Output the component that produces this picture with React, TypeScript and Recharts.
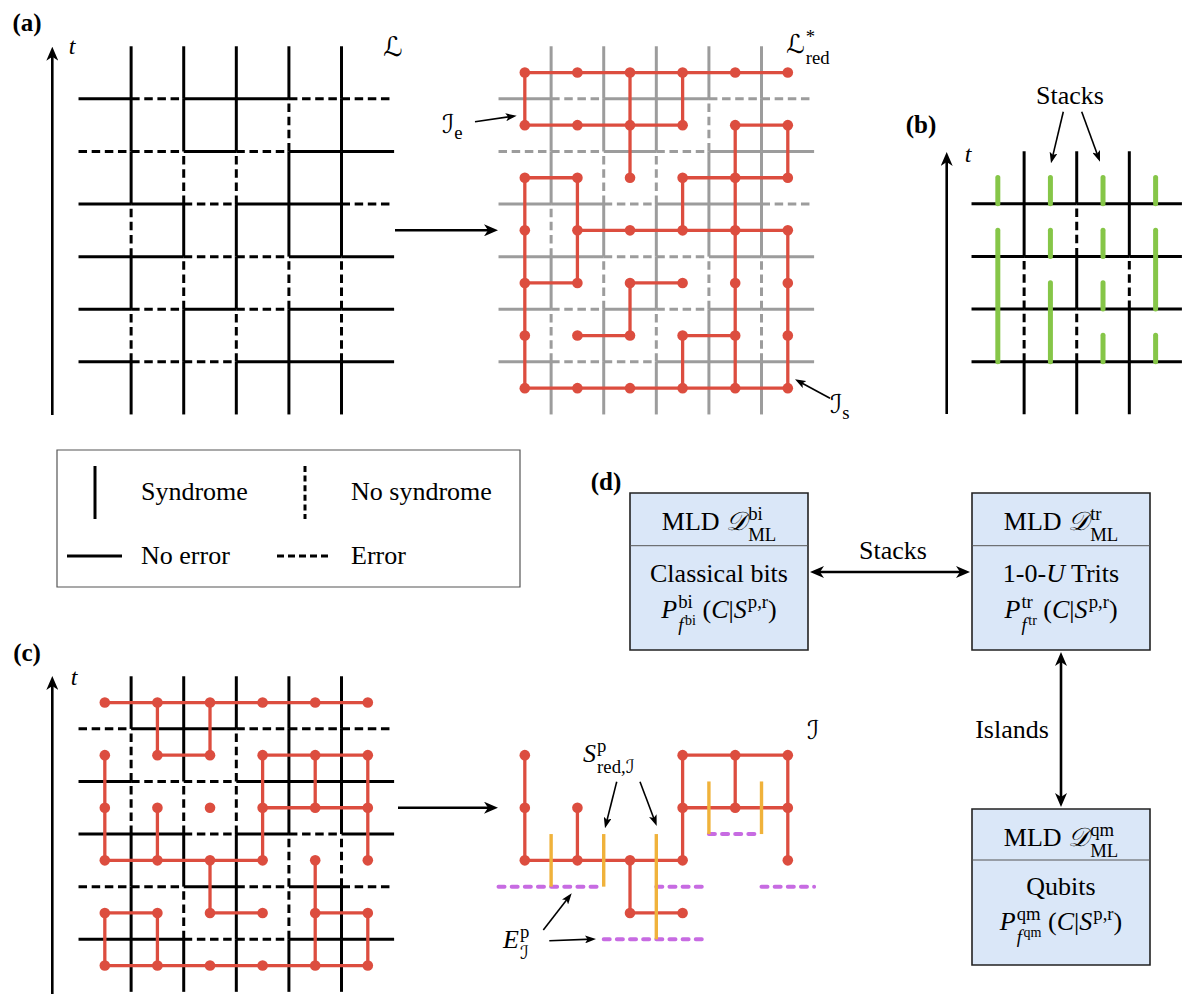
import type { CSSProperties, ReactNode } from "react";
import { ComposedChart, ReferenceArea, ReferenceLine, Scatter, XAxis, YAxis } from "recharts";

// Lattice strings: rows = horizontal lines t = 1..n (bottom up), cols = vertical lines 1..m (left to right).
// "S" = syndrome / no error (solid), "D" = no syndrome / error (dashed).
const latticeARows = ["SDDSSS", "SDSDSS", "SSDDSS", "SSDSSD", "DDSDSS", "SDSSDD"];
const latticeACols = ["SDSDSSS", "SSDSDSS", "SDSSDSS", "SSDSSDS", "SDDSSSS"];

const latticeBRows = ["SSSS", "SSSS", "SSSS", "SSSS"];
const latticeBCols = ["SDDSS", "SDSDS", "SSDSS"];
const stacks = [
  { x: 0.5, from: 4, to: 4.5 },
  { x: 0.5, from: 1, to: 3.5 },
  { x: 1.5, from: 4, to: 4.5 },
  { x: 1.5, from: 3, to: 3.5 },
  { x: 1.5, from: 1, to: 2.5 },
  { x: 2.5, from: 4, to: 4.5 },
  { x: 2.5, from: 3, to: 3.5 },
  { x: 2.5, from: 2, to: 2.5 },
  { x: 2.5, from: 1, to: 1.5 },
  { x: 3.5, from: 4, to: 4.5 },
  { x: 3.5, from: 2, to: 3.5 },
  { x: 3.5, from: 1, to: 1.5 },
];

const latticeCRows = ["SSDDSS", "DDSDSD", "SSDSDS", "SDDSSS", "DSSDDD"];
const latticeCCols = ["SSSDDS", "SDSDSS", "SSSDDS", "SDDSSS", "SSDSSS"];
const islandNodes = [
  { x: 0.5, y: 4.5 }, { x: 0.5, y: 3.5 }, { x: 0.5, y: 2.5 }, { x: 1.5, y: 3.5 },
  { x: 1.5, y: 2.5 }, { x: 2.5, y: 2.5 }, { x: 2.5, y: 1.5 }, { x: 3.5, y: 1.5 },
  { x: 3.5, y: 2.5 }, { x: 3.5, y: 3.5 }, { x: 3.5, y: 4.5 }, { x: 4.5, y: 4.5 },
  { x: 4.5, y: 3.5 }, { x: 5.5, y: 4.5 }, { x: 5.5, y: 3.5 }, { x: 5.5, y: 2.5 },
];
const islandSyndromes = [
  { x: 1, from: 2, to: 3 },
  { x: 2, from: 2, to: 3 },
  { x: 3, from: 1, to: 3 },
  { x: 4, from: 3, to: 4 },
  { x: 5, from: 3, to: 4 },
];
const islandErrors = [
  { y: 2, from: 0, to: 2 },
  { y: 2, from: 3, to: 4 },
  { y: 2, from: 5, to: 6 },
  { y: 3, from: 4, to: 5 },
  { y: 1, from: 2, to: 4 },
];

const SERIF = "'Liberation Serif', 'DejaVu Serif', serif";
const SCRIPT = "'DejaVu Serif', 'DejaVu Sans', serif";
const RED = "#dc4d3f";
const GRAY = "#9c9c9c";
const GREEN = "#86c648";
const ORANGE = "#f0b23b";
const PURPLE = "#c76be2";
const BOX_FILL = "#dae7f8";
const U = 52.6;
const DASH = "8.5 4.65";

type Pt = { x: number; y: number };

const gridLines = (rows: string[], cols: string[], color: string, id: string) => {
  const out: ReactNode[] = [];
  const add = (key: string, a: Pt, b: Pt, kind: string) =>
    out.push(
      <ReferenceLine
        key={key}
        segment={[a, b]}
        stroke={color}
        strokeWidth={3}
        strokeDasharray={kind === "D" ? DASH : undefined}
        ifOverflow="visible"
      />
    );
  rows.forEach((row, j) =>
    [...row].forEach((k, i) => add(`${id}h${j}-${i}`, { x: i, y: j + 1 }, { x: i + 1, y: j + 1 }, k))
  );
  cols.forEach((col, i) =>
    [...col].forEach((k, j) => add(`${id}v${i}-${j}`, { x: i + 1, y: j }, { x: i + 1, y: j + 1 }, k))
  );
  return out;
};

// dual lattice: a red edge crosses every solid primal edge
const dualNodes = (rows: string[], cols: string[]) => {
  const pts: Pt[] = [];
  for (let i = 0; i < rows[0].length; i++)
    for (let j = 0; j < cols[0].length; j++) pts.push({ x: i + 0.5, y: j + 0.5 });
  return pts;
};

const dualEdges = (rows: string[], cols: string[]) => {
  const edges: [Pt, Pt][] = [];
  cols.forEach((col, i) =>
    [...col].forEach((k, j) => {
      if (k === "S") edges.push([{ x: i + 0.5, y: j + 0.5 }, { x: i + 1.5, y: j + 0.5 }]);
    })
  );
  rows.forEach((row, j) =>
    [...row].forEach((k, i) => {
      if (k === "S") edges.push([{ x: i + 0.5, y: j + 0.5 }, { x: i + 0.5, y: j + 1.5 }]);
    })
  );
  return edges;
};

const has = (nodes: Pt[], p: Pt) => nodes.some((n) => n.x === p.x && n.y === p.y);
const islandEdges = dualEdges(latticeCRows, latticeCCols).filter(
  ([a, b]) => has(islandNodes, a) && has(islandNodes, b)
);

const redDot = (p: any) => <circle cx={p.cx} cy={p.cy} r={5.3} fill={RED} />;

const redGraph = (edges: [Pt, Pt][], nodes: Pt[], id: string) => [
  ...edges.map(([a, b], k) => (
    <ReferenceLine key={`${id}e${k}`} segment={[a, b]} stroke={RED} strokeWidth={3.3} ifOverflow="visible" />
  )),
  <Scatter key={`${id}dots`} data={nodes} isAnimationActive={false} shape={redDot} legendType="none" />,
];

interface FrameProps {
  ox: number;
  oy: number;
  xDom: [number, number];
  yDom: [number, number];
  children: ReactNode;
}

const Frame = ({ ox, oy, xDom, yDom, children }: FrameProps) => {
  const width = (xDom[1] - xDom[0]) * U;
  const height = (yDom[1] - yDom[0]) * U;
  return (
    <div style={{ position: "absolute", left: ox + xDom[0] * U, top: oy - yDom[1] * U, width, height }}>
      <ComposedChart width={width} height={height} margin={{ top: 0, right: 0, bottom: 0, left: 0 }}>
        <XAxis type="number" dataKey="x" domain={xDom} hide allowDataOverflow />
        <YAxis type="number" dataKey="y" domain={yDom} hide allowDataOverflow />
        {children}
      </ComposedChart>
    </div>
  );
};

const Markers = () => (
  <svg width={0} height={0} style={{ position: "absolute" }}>
    <defs>
      <marker id="headBig" viewBox="0 0 14 12" refX="9" refY="6" markerWidth="14" markerHeight="12"
        markerUnits="userSpaceOnUse" orient="auto-start-reverse">
        <path d="M0,0 L14,6 L0,12 L4,6 Z" fill="#000" />
      </marker>
      <marker id="headSmall" viewBox="0 0 11 8" refX="7" refY="4" markerWidth="11" markerHeight="8"
        markerUnits="userSpaceOnUse" orient="auto-start-reverse">
        <path d="M0,0 L11,4 L0,8 L2.5,4 Z" fill="#000" />
      </marker>
    </defs>
  </svg>
);

type ArrowSpec = { from: Pt; to: Pt; big: boolean; both?: boolean };

const arrows: ArrowSpec[] = [
  { from: { x: 52.3, y: 415 }, to: { x: 52.3, y: 46.7 }, big: true },
  { from: { x: 946.7, y: 414 }, to: { x: 946.7, y: 152 }, big: true },
  { from: { x: 52.3, y: 994 }, to: { x: 52.3, y: 676 }, big: true },
  { from: { x: 395, y: 230.3 }, to: { x: 498, y: 230.3 }, big: true },
  { from: { x: 398, y: 807.7 }, to: { x: 498, y: 807.7 }, big: true },
  { from: { x: 810, y: 572 }, to: { x: 970, y: 572 }, big: true, both: true },
  { from: { x: 1061, y: 652 }, to: { x: 1061, y: 807 }, big: true, both: true },
  { from: { x: 475, y: 121.7 }, to: { x: 516.7, y: 115.7 }, big: false },
  { from: { x: 830, y: 398.3 }, to: { x: 795, y: 379.3 }, big: false },
  { from: { x: 1063.3, y: 111.7 }, to: { x: 1051, y: 163.3 }, big: false },
  { from: { x: 1081.7, y: 111.7 }, to: { x: 1100, y: 161.7 }, big: false },
  { from: { x: 616.7, y: 781.7 }, to: { x: 605, y: 828.3 }, big: false },
  { from: { x: 640, y: 781.7 }, to: { x: 656.7, y: 826 }, big: false },
  { from: { x: 543.3, y: 930 }, to: { x: 571.7, y: 893.3 }, big: false },
  { from: { x: 549.3, y: 940.7 }, to: { x: 596, y: 939 }, big: false },
];

const boxes = [
  { x1: 630, x2: 808, y1: 493, y2: 650, split: 545.7 },
  { x1: 972, x2: 1150, y1: 493, y2: 650, split: 545.7 },
  { x1: 972, x2: 1150, y1: 809, y2: 965, split: 860 },
];

const Overlay = () => (
  <div style={{ position: "absolute", left: 0, top: 0 }}>
    <ComposedChart width={1195} height={994} margin={{ top: 0, right: 0, bottom: 0, left: 0 }}>
      <XAxis type="number" dataKey="x" domain={[0, 1195]} hide allowDataOverflow />
      <YAxis type="number" dataKey="y" domain={[0, 994]} reversed hide allowDataOverflow />
      <ReferenceArea x1={57} x2={520} y1={450} y2={587} fill="#fff" fillOpacity={0} stroke="#555" strokeWidth={1.2} ifOverflow="visible" />
      <ReferenceLine segment={[{ x: 95, y: 466 }, { x: 95, y: 519 }]} stroke="#000" strokeWidth={3} ifOverflow="visible" />
      <ReferenceLine segment={[{ x: 305, y: 466 }, { x: 305, y: 519 }]} stroke="#000" strokeWidth={3} strokeDasharray="6 3.6" ifOverflow="visible" />
      <ReferenceLine segment={[{ x: 67, y: 556 }, { x: 122, y: 556 }]} stroke="#000" strokeWidth={3} ifOverflow="visible" />
      <ReferenceLine segment={[{ x: 277, y: 556 }, { x: 332, y: 556 }]} stroke="#000" strokeWidth={3} strokeDasharray="7 4" ifOverflow="visible" />
      {boxes.map((b, i) => (
        <ReferenceArea key={`box${i}`} x1={b.x1} x2={b.x2} y1={b.y1} y2={b.y2} fill={BOX_FILL} fillOpacity={1}
          stroke="#222" strokeWidth={1.6} ifOverflow="visible" />
      ))}
      {boxes.map((b, i) => (
        <ReferenceLine key={`split${i}`} segment={[{ x: b.x1, y: b.split }, { x: b.x2, y: b.split }]}
          stroke="#555" strokeWidth={1} ifOverflow="visible" />
      ))}
      {arrows.map((a, i) => {
        const off = a.big ? 5 : 4;
        const dx = a.to.x - a.from.x;
        const dy = a.to.y - a.from.y;
        const len = Math.hypot(dx, dy);
        const ux = (dx / len) * off;
        const uy = (dy / len) * off;
        const start = a.both ? { x: a.from.x + ux, y: a.from.y + uy } : a.from;
        const end = { x: a.to.x - ux, y: a.to.y - uy };
        const head = a.big ? "url(#headBig)" : "url(#headSmall)";
        return (
          <ReferenceLine key={`arrow${i}`} segment={[start, end]} stroke="#000" strokeWidth={a.big ? 2.6 : 1.6}
            markerEnd={head} markerStart={a.both ? head : undefined} ifOverflow="visible" />
        );
      })}
    </ComposedChart>
  </div>
);

interface TxProps {
  x: number;
  y: number;
  size?: number;
  start?: boolean;
  style?: CSSProperties;
  children: ReactNode;
}

const Tx = ({ x, y, size = 26, start, style, children }: TxProps) => (
  <div
    style={{
      position: "absolute",
      left: x,
      top: y,
      transform: start ? "translate(0, -50%)" : "translate(-50%, -50%)",
      fontFamily: SERIF,
      fontSize: size,
      lineHeight: 1,
      whiteSpace: "nowrap",
      color: "#000",
      ...style,
    }}
  >
    {children}
  </div>
);

const Scr = ({ children }: { children: ReactNode }) => (
  <span style={{ fontFamily: SCRIPT, fontStyle: "italic" }}>{children}</span>
);
const Sup = ({ children }: { children: ReactNode }) => (
  <span style={{ fontSize: "0.72em", verticalAlign: "0.55em", lineHeight: 0, marginLeft: "0.06em" }}>{children}</span>
);
const Sub = ({ children }: { children: ReactNode }) => (
  <span style={{ fontSize: "0.72em", verticalAlign: "-0.35em", lineHeight: 0 }}>{children}</span>
);
const SupSub = ({ sup, sub }: { sup: ReactNode; sub: ReactNode }) => (
  <span
    style={{
      display: "inline-flex",
      flexDirection: "column",
      fontSize: "0.72em",
      lineHeight: 1.12,
      verticalAlign: "0.55em",
      textAlign: "left",
      marginLeft: "0.06em",
    }}
  >
    <span>{sup}</span>
    <span>{sub}</span>
  </span>
);

const Prob = ({ tag }: { tag: string }) => (
  <>
    <i>P</i>
    <SupSub sup={tag} sub={<><i>f</i><span style={{ fontSize: "0.75em", marginLeft: "0.12em", verticalAlign: "0.45em" }}>{tag}</span></>} />
    {" "}(<i>C</i>|<i>S</i><Sup>p,r</Sup>)
  </>
);

const Title = ({ tag }: { tag: string }) => (
  <>
    MLD <Scr>𝒟</Scr>
    <SupSub sup={tag} sub="ML" />
  </>
);

const BoxLine = ({ box, y, children }: { box: number; y: number; children: ReactNode }) => {
  const b = boxes[box];
  return (
    <div
      style={{
        position: "absolute",
        left: b.x1,
        width: b.x2 - b.x1,
        top: y - 15,
        height: 30,
        lineHeight: "30px",
        textAlign: "center",
        fontFamily: SERIF,
        fontSize: 26,
        whiteSpace: "nowrap",
      }}
    >
      {children}
    </div>
  );
};

export default function App() {
  return (
    <div
      style={{
        position: "absolute",
        left: 0,
        top: 0,
        width: 1195,
        height: 994,
        background: "#fff",
        overflow: "hidden",
      }}
    >
      <Markers />

      <Frame ox={78.35} oy={414.3} xDom={[-0.2, 6.2]} yDom={[-0.1, 7.1]}>
        {gridLines(latticeARows, latticeACols, "#000", "aL")}
      </Frame>

      <Frame ox={498.35} oy={414.3} xDom={[-0.2, 6.2]} yDom={[-0.1, 7.1]}>
        {gridLines(latticeARows, latticeACols, GRAY, "aR")}
        {redGraph(dualEdges(latticeARows, latticeACols), dualNodes(latticeARows, latticeACols), "aRed")}
      </Frame>

      <Frame ox={972} oy={414.3} xDom={[-0.2, 4.2]} yDom={[-0.1, 5.1]}>
        {gridLines(latticeBRows, latticeBCols, "#000", "b")}
        {stacks.map((s, i) => (
          <ReferenceLine key={`st${i}`} segment={[{ x: s.x, y: s.from }, { x: s.x, y: s.to }]} stroke={GREEN}
            strokeWidth={5} strokeLinecap="round" ifOverflow="visible" />
        ))}
      </Frame>

      <Frame ox={78.35} oy={991.6} xDom={[-0.2, 6.2]} yDom={[-0.05, 6.1]}>
        {gridLines(latticeCRows, latticeCCols, "#000", "cL")}
        {redGraph(dualEdges(latticeCRows, latticeCCols), dualNodes(latticeCRows, latticeCCols), "cRed")}
      </Frame>

      <Frame ox={498.35} oy={991.6} xDom={[-0.2, 6.2]} yDom={[-0.05, 6.1]}>
        {islandErrors.map((e, i) => (
          <ReferenceLine key={`er${i}`} segment={[{ x: e.from, y: e.y }, { x: e.to, y: e.y }]} stroke={PURPLE}
            strokeWidth={4} strokeDasharray="6 7.15" strokeLinecap="round" ifOverflow="visible" />
        ))}
        {redGraph(islandEdges, islandNodes, "isl")}
        {islandSyndromes.map((s, i) => (
          <ReferenceLine key={`sy${i}`} segment={[{ x: s.x, y: s.from }, { x: s.x, y: s.to }]} stroke={ORANGE}
            strokeWidth={3.4} ifOverflow="visible" />
        ))}
      </Frame>

      <Overlay />

      <Tx x={27} y={22} size={25} style={{ fontWeight: "bold" }}>(a)</Tx>
      <Tx x={72} y={46} size={24}><i>t</i></Tx>
      <Tx x={393} y={47} size={27}><Scr>ℒ</Scr></Tx>
      <Tx x={786} y={48} start><Scr>ℒ</Scr><SupSub sup="*" sub="red" /></Tx>
      <Tx x={442} y={124} start><Scr>ℐ</Scr><Sub>e</Sub></Tx>
      <Tx x={830} y={404} start><Scr>ℐ</Scr><Sub>s</Sub></Tx>

      <Tx x={921} y={124} size={25} style={{ fontWeight: "bold" }}>(b)</Tx>
      <Tx x={1070} y={96}>Stacks</Tx>
      <Tx x={968} y={154} size={24}><i>t</i></Tx>

      <Tx x={141} y={492} start>Syndrome</Tx>
      <Tx x={351} y={492} start>No syndrome</Tx>
      <Tx x={141} y={556} start>No error</Tx>
      <Tx x={351} y={556} start>Error</Tx>

      <Tx x={27} y={652} size={25} style={{ fontWeight: "bold" }}>(c)</Tx>
      <Tx x={74} y={677} size={24}><i>t</i></Tx>
      <Tx x={813} y={730}><Scr>ℐ</Scr></Tx>
      <Tx x={583} y={757} start><i>S</i><SupSub sup="p" sub={<>red,<Scr>ℐ</Scr></>} /></Tx>
      <Tx x={503} y={943} start><i>E</i><SupSub sup="p" sub={<Scr>ℐ</Scr>} /></Tx>

      <Tx x={606} y={481} size={25} style={{ fontWeight: "bold" }}>(d)</Tx>
      <Tx x={893} y={551}>Stacks</Tx>
      <Tx x={1012} y={730}>Islands</Tx>

      <BoxLine box={0} y={519}><Title tag="bi" /></BoxLine>
      <BoxLine box={0} y={574}>Classical bits</BoxLine>
      <BoxLine box={0} y={607}><Prob tag="bi" /></BoxLine>

      <BoxLine box={1} y={519}><Title tag="tr" /></BoxLine>
      <BoxLine box={1} y={574}>1-0-<i>U</i> Trits</BoxLine>
      <BoxLine box={1} y={607}><Prob tag="tr" /></BoxLine>

      <BoxLine box={2} y={835}><Title tag="qm" /></BoxLine>
      <BoxLine box={2} y={887}>Qubits</BoxLine>
      <BoxLine box={2} y={919}><Prob tag="qm" /></BoxLine>
    </div>
  );
}
